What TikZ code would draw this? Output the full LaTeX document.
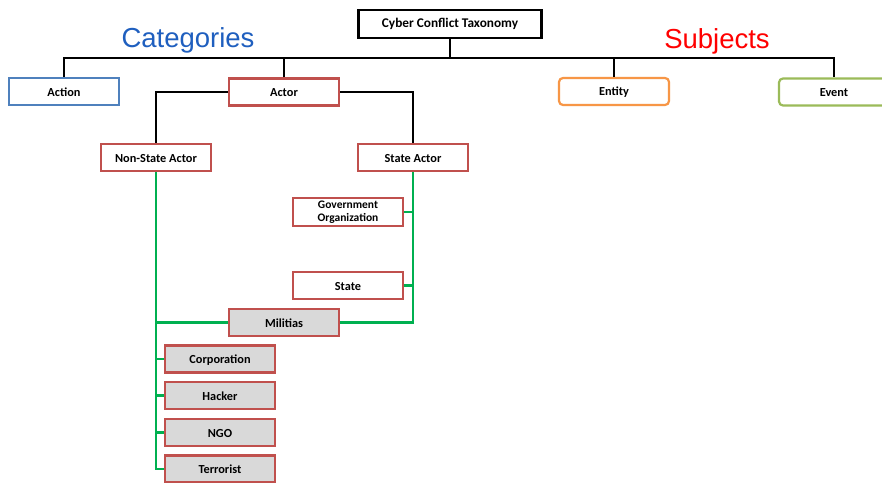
\documentclass[tikz,border=0pt]{standalone}
\usepackage{fontspec}
\setmainfont{Carlito}
\newfontfamily\arialf{Liberation Sans}
\definecolor{cred}{HTML}{C0504D}
\definecolor{cblue}{HTML}{4F81BD}
\definecolor{corange}{HTML}{F79646}
\definecolor{cgreen}{HTML}{9BBB59}
\definecolor{lgreen}{HTML}{00B050}
\definecolor{cgray}{HTML}{D9D9D9}
\definecolor{catblue}{HTML}{1F5FBF}
\begin{document}
\begin{tikzpicture}[x=1pt,y=1pt,
  box/.style={draw, line width=2.2pt, minimum width=110pt, minimum height=27pt, inner sep=1pt,
    font=\fontsize{12.3}{12.5}\selectfont\bfseries, align=center, yshift=0pt},
  redbox/.style={box, draw=cred, fill=white},
  graybox/.style={box, draw=cred, fill=cgray},
  bline/.style={draw=black, line width=2.2pt},
  gline/.style={draw=lgreen, line width=2.2pt}]
\useasboundingbox (0,0) rectangle (882,-482);
\clip (0,0) rectangle (882,-482);
\fill[white] (0,0) rectangle (882,-482);
% nodes
\node[box, draw=black, minimum width=183pt, minimum height=28pt, font=\fontsize{13.3}{14}\selectfont\bfseries, text height=2.1ex] (root) at (450,-24) {Cyber Conflict Taxonomy};
\node[box, draw=cblue, text height=2.1ex] (action) at (64,-91.5) {Action};
\node[redbox, text height=2.1ex] (actor) at (284,-92) {Actor};
\node[box, draw=corange, rounded corners=4pt, text height=2.1ex] (entity) at (614,-91.5) {Entity};
\node[box, draw=cgreen, rounded corners=4pt, text height=2.1ex] (event) at (834,-92) {Event};
\node[redbox, text height=2.1ex] (nsa) at (156,-157.5) {Non-State Actor};
\node[redbox, text height=2.1ex] (sa) at (413,-157.5) {State Actor};
\node[redbox, minimum height=28pt, font=\fontsize{11.5}{13}\selectfont\bfseries] (gov) at (348,-212) {Government\\Organization};
\node[redbox, text height=2.1ex] (state) at (348,-285.5) {State};
\node[graybox, text height=2.1ex] (mil) at (284,-322.5) {Militias};
\node[graybox, text height=2.1ex] (corp) at (220,-359) {Corporation};
\node[graybox, text height=2.1ex] (hack) at (220,-395.5) {Hacker};
\node[graybox, text height=2.1ex] (ngo) at (220,-432.5) {NGO};
\node[graybox, text height=2.1ex] (terr) at (220,-469) {Terrorist};
\node[text=catblue, font=\arialf\fontsize{27.5}{29}\selectfont] (cat) at (188,-40.5) {Categories};
\node[text=red, font=\arialf\fontsize{27.5}{29}\selectfont] (subj) at (717,-41.5) {Subjects};
% black connectors
\coordinate (bus) at (450,-58);
\draw[bline] (root.south) -- (bus);
\draw[bline] (action.north) |- (bus) -| (event.north);
\draw[bline] (actor.north) -- (actor.north |- bus);
\draw[bline] (entity.north) -- (entity.north |- bus);
\draw[bline] (actor.west) -| (nsa.north);
\draw[bline] (actor.east) -| (sa.north);
% green connectors
\draw[gline] (nsa.south) |- (terr.west);
\draw[gline] (corp.west) -- (corp.west -| nsa.south);
\draw[gline] (hack.west) -- (hack.west -| nsa.south);
\draw[gline] (ngo.west) -- (ngo.west -| nsa.south);
\draw[gline] (mil.west) -- (mil.west -| nsa.south);
\draw[gline] (sa.south) |- (mil.east);
\draw[gline] (gov.east) -- (gov.east -| sa.south);
\draw[gline] (state.east) -- (state.east -| sa.south);
\end{tikzpicture}
\end{document}
